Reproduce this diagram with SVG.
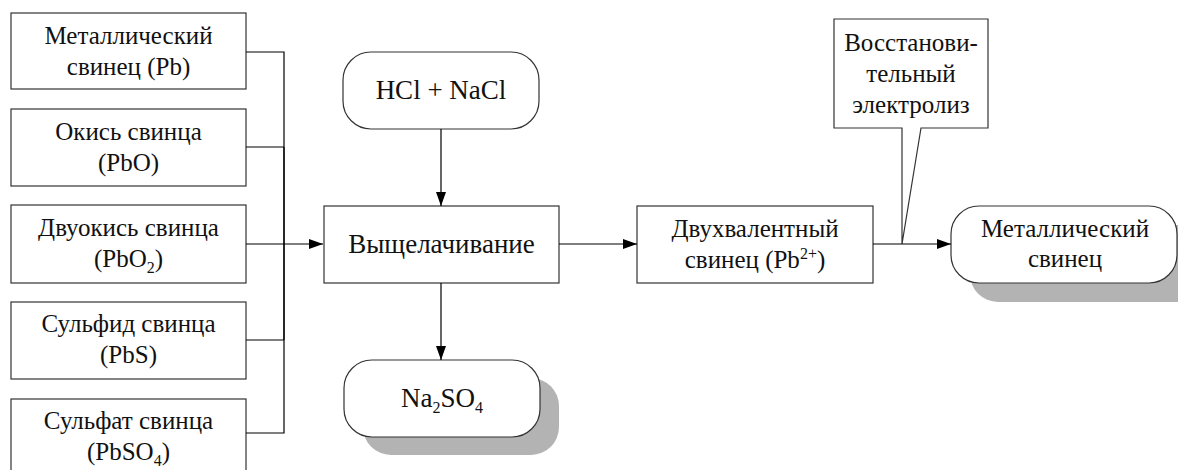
<svg xmlns="http://www.w3.org/2000/svg" width="1178" height="470" viewBox="0 0 1178 470">
  <style>
    .box { fill: #ffffff; stroke: #333333; stroke-width: 1.2; }
    .shadow { fill: #b3b3b3; stroke: none; }
    .line { fill: none; stroke: #000000; stroke-width: 1.2; }
    .txt { font-family: "Liberation Serif", "Times New Roman", serif; font-size: 25px; fill: #111111; text-anchor: middle; }
    .big { font-size: 27px; }
    .sub { font-size: 16px; }
  </style>
  <defs>
    <marker id="arrow" viewBox="0 0 14 10" refX="14" refY="5" markerWidth="14" markerHeight="10" markerUnits="userSpaceOnUse" orient="auto">
      <path d="M0,0 L14,5 L0,10 Z" fill="#000000"/>
    </marker>
  </defs>

  <!-- source materials -->
  <g id="src-pb">
    <rect class="box" x="11" y="13" width="235" height="76"/>
    <text class="txt" x="128.5" y="44">Металлический</text>
    <text class="txt" x="128.5" y="75">свинец (Pb)</text>
  </g>
  <g id="src-pbo">
    <rect class="box" x="11" y="109" width="235" height="77"/>
    <text class="txt" x="128.5" y="140">Окись свинца</text>
    <text class="txt" x="128.5" y="171">(PbO)</text>
  </g>
  <g id="src-pbo2">
    <rect class="box" x="11" y="205" width="235" height="78"/>
    <text class="txt" x="128.5" y="236">Двуокись свинца</text>
    <text class="txt" x="128.5" y="267">(PbO<tspan class="sub" dy="6">2</tspan><tspan dy="-6">)</tspan></text>
  </g>
  <g id="src-pbs">
    <rect class="box" x="11" y="302" width="235" height="77"/>
    <text class="txt" x="128.5" y="332">Сульфид свинца</text>
    <text class="txt" x="128.5" y="363">(PbS)</text>
  </g>
  <g id="src-pbso4">
    <rect class="box" x="11" y="399" width="235" height="78"/>
    <text class="txt" x="128.5" y="429">Сульфат свинца</text>
    <text class="txt" x="128.5" y="460">(PbSO<tspan class="sub" dy="6">4</tspan><tspan dy="-6">)</tspan></text>
  </g>

  <!-- reagent -->
  <g id="reagent">
    <rect class="box" x="343" y="52" width="196" height="77" rx="28" ry="28"/>
    <text class="txt big" x="441" y="99">HCl + NaCl</text>
  </g>

  <!-- leaching -->
  <g id="leaching">
    <rect class="box" x="324" y="206" width="235" height="77"/>
    <text class="txt big" x="441.5" y="253">Выщелачивание</text>
  </g>

  <!-- by-product -->
  <g id="na2so4">
    <rect class="shadow" x="363" y="378" width="196" height="77" rx="28" ry="28"/>
    <rect class="box" x="344" y="360" width="196" height="77" rx="28" ry="28"/>
    <text class="txt big" x="442" y="407">Na<tspan class="sub" dy="6" font-size="18">2</tspan><tspan dy="-6">SO</tspan><tspan class="sub" dy="6" font-size="18">4</tspan></text>
  </g>

  <!-- divalent lead -->
  <g id="pb2">
    <rect class="box" x="637" y="206" width="236" height="77"/>
    <text class="txt" x="755" y="237">Двухвалентный</text>
    <text class="txt" x="755" y="268">свинец (Pb<tspan class="sub" dy="-9">2+</tspan><tspan dy="9">)</tspan></text>
  </g>

  <!-- electrolysis callout -->
  <g id="electrolysis">
    <path class="box" d="M834,19 L988,19 L988,128 L921,128 L902,244 L902,128 L834,128 Z"/>
    <text class="txt" x="911" y="51">Восстанови-</text>
    <text class="txt" x="911" y="82">тельный</text>
    <text class="txt" x="911" y="113">электролиз</text>
  </g>

  <!-- metallic lead product -->
  <g id="product">
    <rect class="shadow" x="970" y="225" width="240" height="77" rx="28" ry="28"/>
    <rect class="box" x="951" y="206" width="226" height="77" rx="28" ry="28"/>
    <text class="txt" x="1065" y="237">Металлический</text>
    <text class="txt" x="1065" y="267">свинец</text>
  </g>

  <!-- connectors -->
  <g id="connectors">
    <path class="line" d="M246,52 H284 V433 H246"/>
    <path class="line" d="M246,147 H284 M246,244 H284 M246,340 H284"/>
    <path class="line" d="M284,147 V340" stroke-width="2"/>
    <path class="line" d="M284,244 H323" marker-end="url(#arrow)"/>
    <path class="line" d="M441,129 V206" marker-end="url(#arrow)"/>
    <path class="line" d="M441,283 V360" marker-end="url(#arrow)"/>
    <path class="line" d="M559,244 H637" marker-end="url(#arrow)"/>
    <path class="line" d="M873,244 H951" marker-end="url(#arrow)"/>
  </g>
</svg>
